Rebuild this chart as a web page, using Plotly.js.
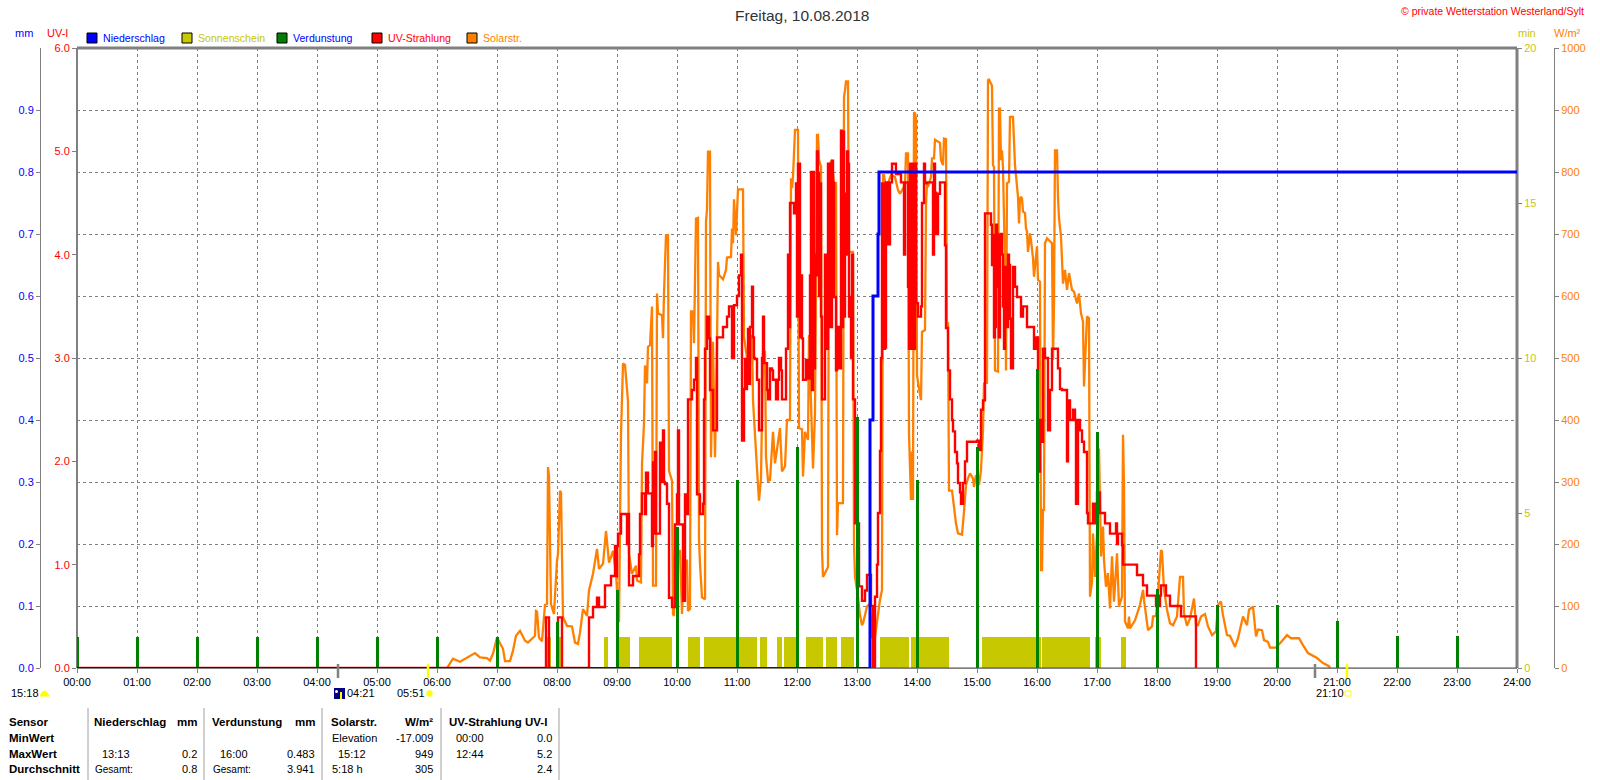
<!DOCTYPE html>
<html><head><meta charset="utf-8">
<script src="https://cdn.plot.ly/plotly-3.0.1.min.js"></script>
<style>html,body{margin:0;padding:0;background:#fff;overflow:hidden}#c{width:1600px;height:780px}</style>
</head><body><div id="c"></div>
<script>
// time of day in minutes
const hourMinutes=[0,60,120,180,240,300,360,420,480,540,600,660,720,780,840,900,960,1020,1080,1140,1200,1260,1320,1380,1440];
const hourLabels=["00:00","01:00","02:00","03:00","04:00","05:00","06:00","07:00","08:00","09:00","10:00","11:00","12:00","13:00","14:00","15:00","16:00","17:00","18:00","19:00","20:00","21:00","22:00","23:00","24:00"];
const evapMinutes=[0,60,120,180,240,300,360,420,480,540,600,660,720,780,840,900,960,1020,1080,1140,1200,1260,1320,1380];
const evapMm=[0.05,0.05,0.05,0.05,0.05,0.05,0.05,0.05,0.075,0.126,0.227,0.303,0.356,0.405,0.304,0.356,0.483,0.38,0.127,0.102,0.101,0.076,0.052,0.052];
const rainMinutes=[793,796,801,802,1440];
const rainMm=[0.4,0.6,0.7,0.8,0.8];
const sunStart=[468,482,527,542,562,611,627,683,700,707,729,749,764,803,834,905,965,1018,1044];
const sunEnd=[474,486,531,553,595,623,680,690,705,722,746,760,777,832,872,964,1013,1024,1049];
const solarMin=[370,376,383,398,403,410,413,416,420,423,426,428,433,436,439,443,448,451,455,458,459,460,462,465,468,470,471,472,474,477,480,481,483,484,486,490,495,498,501,503,506,510,512,516,520,522,526,529,532,536,539,542,544,545,546,548,550,551,552,555,559,560,564,565,567,568,570,571,573,575,576,579,580,581,585,586,587,589,591,592,595,596,597,598,603,605,607,610,611,613,614,616,617,618,619,621,622,623,625,628,629,630,631,633,634,636,638,640,641,642,646,649,650,654,655,656,657,659,661,666,667,670,671,675,676,680,682,684,686,688,689,691,693,696,698,703,705,708,710,713,714,715,716,718,721,722,725,726,728,731,732,733,736,738,739,740,741,742,744,745,746,750,751,752,755,757,759,760,761,766,767,768,769,771,772,776,777,778,781,783,785,786,788,790,793,795,798,800,801,803,805,806,807,810,811,814,818,820,821,823,828,829,831,832,833,834,835,836,837,838,839,840,842,844,845,848,849,850,851,854,855,857,858,863,864,866,867,869,870,871,872,875,877,879,881,885,887,889,891,893,896,897,899,902,904,906,907,910,911,912,915,916,917,918,921,922,923,924,925,926,928,929,930,932,933,936,938,939,940,941,942,943,944,945,946,948,949,950,951,953,954,956,957,959,960,961,963,964,965,966,967,968,970,972,975,976,977,978,980,981,982,984,985,986,988,990,992,995,997,1000,1002,1004,1006,1007,1010,1012,1013,1015,1016,1018,1020,1022,1024,1026,1027,1029,1031,1033,1035,1037,1040,1042,1045,1046,1047,1048,1051,1052,1053,1056,1058,1063,1066,1067,1070,1071,1075,1076,1079,1081,1084,1085,1087,1090,1093,1096,1100,1103,1106,1107,1110,1113,1117,1119,1121,1124,1128,1131,1135,1139,1141,1144,1146,1150,1153,1158,1161,1166,1170,1172,1176,1179,1181,1185,1187,1191,1193,1199,1203,1210,1214,1222,1226,1231,1240,1246,1252,1253];
const solarWatt=[0,15,10,24,17,16,12,23,49,39,31,11,11,28,52,60,44,41,48,52,92,91,49,43,102,103,324,310,103,87,173,184,286,283,82,68,67,41,39,57,95,84,125,152,192,160,168,221,170,189,152,74,377,431,491,489,456,430,184,152,165,141,138,329,394,488,459,518,521,583,133,133,604,572,569,532,604,698,698,318,302,87,84,189,189,87,173,173,92,95,575,575,524,620,725,726,208,168,114,111,720,739,833,833,340,526,340,526,655,634,627,642,662,663,709,685,756,698,772,772,534,500,459,537,432,321,270,305,510,510,340,302,303,381,330,387,317,325,400,400,790,774,792,868,868,387,385,309,381,368,537,481,322,411,739,860,860,819,809,190,147,161,163,811,819,782,782,214,266,266,921,932,946,946,671,671,201,147,115,85,69,72,88,99,104,50,50,75,91,110,126,795,795,763,782,795,792,776,771,765,779,830,830,378,309,271,349,271,896,895,887,472,451,432,542,545,747,782,776,792,822,822,852,847,819,811,854,853,550,558,286,286,260,233,217,215,252,295,306,314,306,292,311,295,319,384,459,460,948,949,939,811,808,480,478,902,902,819,835,806,647,480,782,784,889,889,811,790,775,760,717,757,760,757,736,734,709,704,671,701,690,661,631,666,680,626,623,158,158,255,255,685,693,690,685,497,588,835,835,760,725,696,647,620,642,610,637,610,607,588,604,572,559,454,567,564,115,139,217,147,217,354,180,228,174,131,153,96,180,107,185,99,115,376,295,75,64,83,64,72,77,102,126,110,72,61,67,83,84,120,190,188,126,94,72,69,83,147,147,88,68,80,112,69,69,83,87,67,53,59,102,107,85,53,52,34,48,83,69,94,99,51,62,61,45,42,33,33,40,53,48,48,37,24,16,8,3,0];
const uvMinMain=[0,469,472,481,485,512,516,520,522,528,534,538,539,540,541,544,550,551,552,556,562,563,565,568,569,571,575,576,578,580,583,586,588,590,592,595,598,600,601,602,606,608,610,611,615,617,619,620,623,626,627,628,630,632,633,636,640,645,646,650,652,655,657,660,662,664,665,667,668,669,670,671,672,673,675,676,677,678,680,682,685,686,687,688,690,691,693,695,696,699,701,702,704,705,709,711,712,713,716,717,719,720,722,724,725,726,729,731,733,734,735,738,740,741,743,745,748,750,751,755,756,758,760,761,763,764,768,770,771,773,775,776,778,782,785,788,790,794,796,798,800,801,803,804,805,807,809,811,813,815,817,819,823,824,826,827,828,831,832,835,836,838,839,841,844,845,847,848,850,855,856,857,859,861,863,867,868,869,871,873,875,876,878,880,881,883,884,886,888,890,900,902,904,906,908,913,914,915,916,917,919,920,921,923,925,926,927,928,930,931,933,935,936,938,940,942,944,946,948,950,955,957,959,961,963,965,966,968,971,973,975,978,981,983,985,990,991,993,996,998,999,1001,1003,1005,1007,1010,1011,1012,1016,1017,1018,1020,1023,1025,1028,1030,1033,1034,1039,1040,1041,1045,1046,1049,1060,1061,1066,1067,1070,1079,1083,1084,1086,1089,1090,1093,1094,1104,1105,1119,1131];
const uvIndexMain=[0,0.49,0,0.49,0,0.49,0.59,0.68,0.59,0.8,0.89,1.18,0.89,1.18,1.3,1.49,1.2,1.49,0.8,0.89,1.1,1.49,1.69,1.49,1.89,1.69,1.18,1.99,2.09,1.3,2.18,2.3,1.78,1.59,0.68,0.59,1.39,1.68,2.3,1.39,0.65,1.68,1.49,2.6,2.69,2.79,3.0,1.68,1.49,1.59,2.6,3.09,3.4,3.19,2.69,2.3,3.2,3.2,3.3,3.4,3.5,3.0,3.51,3.6,3.8,4.0,2.2,2.7,2.99,2.7,2.99,3.28,2.75,3.3,3.69,3.2,3.0,2.99,2.79,2.3,3.0,3.4,2.95,2.95,2.69,2.6,2.9,2.88,2.79,2.6,2.79,3.0,2.88,2.6,3.09,4.0,3.3,4.5,4.5,4.4,4.69,3.4,4.88,3.8,3.19,2.79,2.98,2.8,3.8,4.8,2.69,4.0,5.0,4.79,4.69,2.6,4.0,3.09,4.88,4.91,4.7,3.59,2.9,3.3,2.9,5.2,4.59,5.0,4.88,3.59,4.0,2.6,1.4,0.79,0.65,0.75,0.9,0.6,0,0.69,1.0,1.5,2.1,3.0,4.69,3.09,4.7,4.1,4.7,4.88,4.88,4.78,4.78,4.7,4.7,4.0,4.7,3.69,3.09,4.88,3.09,4.88,3.53,3.4,3.5,4.5,4.88,4.69,4.7,4.7,4.0,4.88,4.2,4.59,4.7,4.7,4.09,3.29,2.88,2.6,2.4,2.29,2.09,1.98,1.79,1.7,1.59,1.79,2.0,2.19,2.2,2.11,2.5,2.59,4.4,4.4,4.29,3.9,4.19,3.2,4.29,4.2,3.69,4.19,4.0,3.5,3.09,3.88,3.3,4.0,3.38,2.9,3.88,3.69,3.59,3.59,3.4,3.5,3.5,3.3,3.3,3.09,3.2,1.9,2.4,2.19,3.09,3.0,2.3,2.69,3.09,3.09,2.9,2.7,2.69,2.0,2.59,2.4,2.5,2.4,1.59,2.4,2.3,2.19,2.09,1.5,1.4,1.4,1.59,1.4,1.59,1.7,1.5,1.5,1.4,1.4,1.3,1.3,1.4,1.2,1.3,1.19,1.0,1.0,0.9,0.9,0.8,0.8,0.7,0.6,0.7,0.8,0.8,0.7,0.7,0.6,0.6,0.5,0.5,0];
// further one-minute readings inside the solid red blocks
const uvExtraMin=[577,579,581,584,587,721,723,736,737,739,742,744,749,752,753,754,757,759,762,765,766,767,769,772,774,806,808,833,834,858,918,922,924,929,932,934];
const uvExtraIndex=[1.3,1.3,1.3,1.8,1.8,4.88,3.2,4.8,2.9,3.8,3.6,3.4,3.09,3.3,4.88,3.3,3.59,2.88,3.3,3.3,5.19,3.4,4.0,3.4,3.0,4.69,3.1,4.88,3.09,4.6,3.3,3.2,4.2,3.5,3.9,2.9];

const uvOrder=uvMinMain.map((m,i)=>[m,uvIndexMain[i]]).concat(uvExtraMin.map((m,i)=>[m,uvExtraIndex[i]])).sort((a,b)=>a[0]-b[0]);
const uvMin=uvOrder.map(p=>p[0]), uvIndex=uvOrder.map(p=>p[1]);

const mmTicks=[0,0.1,0.2,0.3,0.4,0.5,0.6,0.7,0.8,0.9];
const uvTicks=[0,1,2,3,4,5,6];
const minTicks=[0,5,10,15,20];
const wattTicks=[0,100,200,300,400,500,600,700,800,900,1000];

const W=1600,H=780;
const px=x=>x/W, py=y=>1-y/H;
const GRAY='#808080', FONT='"Liberation Sans",Arial,sans-serif';
const BLUE='#0000ff',RED='#ff0000',ORANGE='#ff8000',GREEN='#008000',OLIVE='#c8c800';

const traces=[
 {type:'bar',x:sunStart.map((s,i)=>(s+sunEnd[i])/2),y:sunStart.map(()=>1),width:sunStart.map((s,i)=>sunEnd[i]-s),marker:{color:OLIVE,line:{width:0}},xaxis:'x',yaxis:'y',hoverinfo:'skip'},
 {type:'scatter',mode:'lines',x:solarMin,y:solarWatt,line:{color:ORANGE,width:2.3,shape:'linear'},xaxis:'x',yaxis:'y2',hoverinfo:'skip'},
 {type:'scatter',mode:'lines',x:uvMin,y:uvIndex,line:{color:RED,width:2.4,shape:'hv'},xaxis:'x',yaxis:'y3',hoverinfo:'skip'},
 {type:'bar',x:evapMinutes,y:evapMm,width:3,marker:{color:GREEN,line:{width:0}},xaxis:'x',yaxis:'y4',hoverinfo:'skip'},
 {type:'scatter',mode:'lines',x:[0,1440],y:[0,0],line:{color:GREEN,width:1},xaxis:'x',yaxis:'y4',hoverinfo:'skip'},
 {type:'scatter',mode:'lines',x:[0,792],y:[0,0],line:{color:BLUE,width:2},xaxis:'x',yaxis:'y4',hoverinfo:'skip'},
 {type:'scatter',mode:'lines',x:[792].concat(rainMinutes),y:[0].concat(rainMm),line:{color:BLUE,width:3,shape:'hv'},xaxis:'x',yaxis:'y4',hoverinfo:'skip'}
];

const dom=[py(668),py(48)];
const yBase={domain:dom,showgrid:false,zeroline:false,ticks:'outside',ticklen:4,tickcolor:GRAY,tickwidth:1,fixedrange:true,tickmode:'array'};
const ann=[];
function t(text,x,y,opts){opts=opts||{};ann.push({xref:'paper',yref:'paper',x:px(x),y:py(y),text:opts.bold?'<b>'+text+'</b>':text,showarrow:false,xanchor:opts.a||'left',yanchor:'middle',align:opts.a||'left',borderpad:0,font:{family:FONT,size:opts.s||(opts.bold?11.5:11),color:opts.c||'#000'}});}

t('Freitag, 10.08.2018',802,15,{a:'center',s:15.5,c:'#333333'});
t('© private Wetterstation Westerland/Sylt',1400,11,{s:10.5,c:RED});
t('mm',14,33,{c:BLUE});t('UV-I',46,33,{c:RED});t('min',1517,33,{c:OLIVE});t('W/m²',1553,33,{c:ORANGE});
const legendNames=['Niederschlag','Sonnenschein','Verdunstung','UV-Strahlung','Solarstr.'];
const legendFill=[BLUE,OLIVE,GREEN,RED,ORANGE];
const legendText=[BLUE,OLIVE,BLUE,RED,ORANGE];
const legendX=[87,182,277,372,467];
const shapes=[];
legendNames.forEach((n,i)=>{
 t(n,legendX[i]+15,38,{c:legendText[i],s:10.6});
 shapes.push({type:'rect',xref:'paper',yref:'paper',x0:px(legendX[i]),x1:px(legendX[i]+10),y0:py(43),y1:py(33),fillcolor:legendFill[i],line:{color:'#000',width:1}});
});
// plot frame
[[77,48,1517,48,3],[1517,48,1517,668,3],[77,48,77,668,2]].forEach(l=>shapes.push({type:'line',xref:'paper',yref:'paper',x0:px(l[0]),x1:px(l[2]),y0:py(l[1]),y1:py(l[3]),line:{color:GRAY,width:l[4]},layer:'below'}));
// rise / set marks
[[261,GRAY],[351,'#ffff00'],[1238,GRAY],[1270,'#ffff00']].forEach(m=>shapes.push({type:'line',xref:'x',yref:'paper',x0:m[0],x1:m[0],y0:py(664),y1:py(678),line:{color:m[1],width:2.5}}));
t('15:18',10,693);t('04:21',346,693);t('05:51',396,693);t('21:10',1315,693);
// icons
shapes.push({type:'path',xref:'paper',yref:'paper',path:`M ${px(40)} ${py(696)} Q ${px(44.5)} ${py(686)} ${px(49)} ${py(696)} Z`,fillcolor:'#ffff00',line:{color:'#ffff00',width:1}});
shapes.push({type:'rect',xref:'paper',yref:'paper',x0:px(334),x1:px(345),y0:py(699),y1:py(688),fillcolor:'#000080',line:{width:0}});
shapes.push({type:'line',xref:'paper',yref:'paper',x0:px(341),x1:px(341),y0:py(699),y1:py(692),line:{color:'#ffff00',width:2}});
shapes.push({type:'circle',xref:'paper',yref:'paper',x0:px(335),x1:px(338),y0:py(693),y1:py(690),fillcolor:'#ffffff',line:{width:0}});
shapes.push({type:'circle',xref:'paper',yref:'paper',x0:px(426),x1:px(433),y0:py(697),y1:py(690),fillcolor:'#ffff00',line:{color:'#ffffa0',width:1}});
shapes.push({type:'rect',xref:'paper',yref:'paper',x0:px(1345),x1:px(1351),y0:py(696),y1:py(691),fillcolor:'#ffffff',line:{color:'#ffff00',width:1}});
// statistics table
[88,204,322,441,559].forEach(x=>shapes.push({type:'line',xref:'paper',yref:'paper',x0:px(x),x1:px(x),y0:py(708),y1:py(780),line:{color:'#a0a0a0',width:1}}));
const R1=722,R2=738,R3=754,R4=769;
['Sensor','MinWert','MaxWert','Durchschnitt'].forEach((s,i)=>t(s,8,[R1,R2,R3,R4][i],{bold:true}));
t('Niederschlag',93,R1,{bold:true});t('mm',198,R1,{bold:true,a:'right'});
t('13:13',101,R3);t('0.2',198,R3,{a:'right'});t('Gesamt:',94,R4,{s:10});t('0.8',198,R4,{a:'right'});
t('Verdunstung',211,R1,{bold:true});t('mm',316,R1,{bold:true,a:'right'});
t('16:00',219,R3);t('0.483',316,R3,{a:'right'});t('Gesamt:',212,R4,{s:10});t('3.941',316,R4,{a:'right'});
t('Solarstr.',330,R1,{bold:true});t('W/m²',434,R1,{bold:true,a:'right'});
t('Elevation',331,R2);t('-17.009',434,R2,{a:'right'});t('15:12',337,R3);t('949',434,R3,{a:'right'});t('5:18 h',331,R4);t('305',434,R4,{a:'right'});
t('UV-Strahlung UV-I',448,R1,{bold:true});
t('00:00',455,R2);t('0.0',553,R2,{a:'right'});t('12:44',455,R3);t('5.2',553,R3,{a:'right'});t('2.4',553,R4,{a:'right'});

const layout={
 width:W,height:H,margin:{l:0,r:0,t:0,b:0,pad:0},paper_bgcolor:'#fff',plot_bgcolor:'#fff',showlegend:false,barmode:'overlay',bargap:0,
 font:{family:FONT,size:11,color:'#000'},
 xaxis:{domain:[px(77),px(1517)],range:[0,1440],tickmode:'array',tickvals:hourMinutes,ticktext:hourLabels,showgrid:true,gridcolor:GRAY,griddash:'3px,3px',gridwidth:1,zeroline:false,showline:true,linecolor:GRAY,linewidth:1,ticks:'outside',ticklen:4,tickcolor:GRAY,tickfont:{family:FONT,size:11,color:'#000'},fixedrange:true,tickangle:0},
 yaxis:Object.assign({},yBase,{range:[0,20],side:'right',anchor:'x',tickvals:minTicks,ticktext:minTicks.map(String),tickfont:{family:FONT,size:11,color:OLIVE}}),
 yaxis2:Object.assign({},yBase,{range:[0,1000],overlaying:'y',side:'right',anchor:'free',position:px(1554),showline:true,linecolor:GRAY,linewidth:1,tickvals:wattTicks,ticktext:wattTicks.map(String),tickfont:{family:FONT,size:11,color:ORANGE}}),
 yaxis3:Object.assign({},yBase,{range:[0,6],overlaying:'y',side:'left',anchor:'x',tickvals:uvTicks,ticktext:uvTicks.map(v=>v.toFixed(1)),tickfont:{family:FONT,size:11,color:RED}}),
 yaxis4:Object.assign({},yBase,{range:[0,1],overlaying:'y',side:'left',anchor:'free',position:px(40),showline:true,linecolor:GRAY,linewidth:1,showgrid:true,gridcolor:GRAY,griddash:'3px,3px',gridwidth:1,tickvals:mmTicks,ticktext:mmTicks.map(v=>v.toFixed(1)),tickfont:{family:FONT,size:11,color:BLUE}}),
 annotations:ann,shapes:shapes
};
Plotly.newPlot('c',traces,layout,{displayModeBar:false,staticPlot:true});
</script></body></html>
